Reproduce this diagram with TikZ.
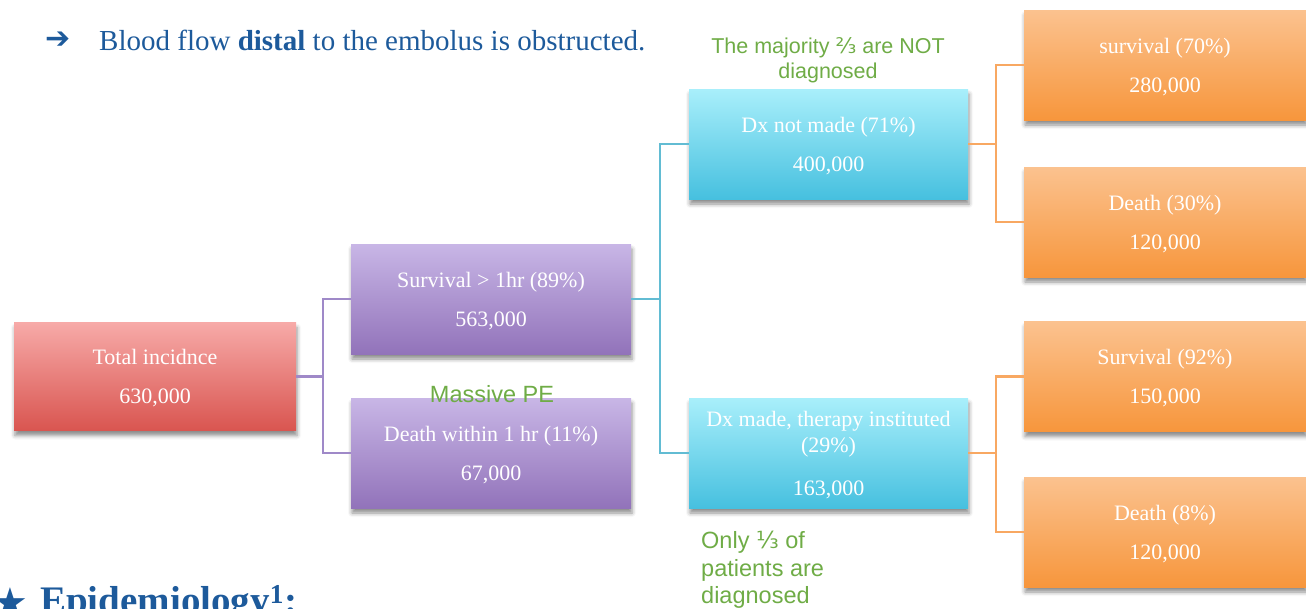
\documentclass[tikz,border=0pt]{standalone}
\usepackage{fontspec}
\setmainfont{Liberation Serif}
\newfontfamily\sanf{Liberation Sans}
\newfontfamily\dvs{DejaVu Sans}
\usetikzlibrary{shadows.blur}

\definecolor{redtop}{HTML}{F7AAA8}
\definecolor{redbot}{HTML}{D95550}
\definecolor{purtop}{HTML}{C8B6E6}
\definecolor{purbot}{HTML}{9273BA}
\definecolor{cyantop}{HTML}{A9EFFB}
\definecolor{cyanbot}{HTML}{46C0DF}
\definecolor{orgtop}{HTML}{FBC28F}
\definecolor{orgbot}{HTML}{F7963C}
\definecolor{purline}{HTML}{9F89C8}
\definecolor{cyanline}{HTML}{62BCD3}
\definecolor{orgline}{HTML}{F8A862}
\definecolor{notegreen}{HTML}{6FAC46}
\definecolor{headblue}{HTML}{1D5A9B}

\tikzset{
  box/.style={minimum width=280pt, minimum height=110pt, inner sep=0pt, align=center,
    text=white, text depth=0pt, font=\fontsize{22}{26}\selectfont,
    blur shadow={shadow xshift=1pt, shadow yshift=-5pt, shadow blur radius=4pt, shadow opacity=45}},
  redbox/.style={box, minimum width=282pt, minimum height=108pt, top color=redtop, bottom color=redbot},
  purbox/.style={box, top color=purtop, bottom color=purbot},
  cyanbox/.style={box, minimum width=279pt, top color=cyantop, bottom color=cyanbot},
  orgbox/.style={box, minimum width=282pt, top color=orgtop, bottom color=orgbot},
  link/.style={line width=2.5pt},
  note/.style={text=notegreen, inner sep=0pt, font=\sanf\fontsize{21.5}{25}\selectfont, align=center},
  blue/.style={text=headblue, inner sep=0pt}
}

\begin{document}
\begin{tikzpicture}[x=1pt, y=-1pt]
  \useasboundingbox (0,0) rectangle (1306,608);
  \clip (0,0) rectangle (1306,608);

  % page text around the chart
  \node[blue, font=\dvs\fontsize{30}{34}\selectfont] (arr) at (58,40) {➔};
  \node[blue, anchor=base west, font=\fontsize{29}{34}\selectfont] (line) at (99,50)
    {Blood flow \textbf{distal} to the embolus is obstructed.};
  \node[blue, anchor=base west, font=\dvs\fontsize{40}{44}\selectfont] (star) at (-8,616) {★};
  \node[blue, anchor=base west, font=\bfseries\fontsize{39}{44}\selectfont] (head) at (40,613)
    {Epidemiology\textsuperscript{1}:};

  % boxes
  \node[redbox] (tot) at (155,376.5) {Total incidnce\\[13pt]630,000};
  \node[purbox] (surv) at (491,299) {Survival > 1hr (89\%)\\[13pt]563,000};
  \node[purbox] (dead) at (491,453) {Death within 1 hr (11\%)\\[13pt]67,000};
  \node[cyanbox] (nodx) at (828.5,144) {Dx not made (71\%)\\[13pt]400,000};
  \node[cyanbox] (dx) at (828.5,453) {Dx made, therapy instituted\\(29\%)\\[17pt]163,000};
  \node[orgbox] (s70) at (1165,65) {survival (70\%)\\[13pt]280,000};
  \node[orgbox] (d30) at (1165,222) {Death (30\%)\\[13pt]120,000};
  \node[orgbox] (s92) at (1165,376.5) {Survival (92\%)\\[13pt]150,000};
  \node[orgbox] (d8) at (1165,532) {Death (8\%)\\[13pt]120,000};

  % connectors
  \coordinate (j1) at (323,376.5);
  \coordinate (j2) at (660,299);
  \coordinate (j3) at (996,144);
  \coordinate (j4) at (996,453);
  \draw[link, purline] (tot.east) -- (j1) |- (surv.west);
  \draw[link, purline] (j1) |- (dead.west);
  \draw[link, cyanline] (surv.east) -- (j2) |- (nodx.west);
  \draw[link, cyanline] (j2) |- (dx.west);
  \draw[link, orgline] (nodx.east) -- (j3) |- (s70.west);
  \draw[link, orgline] (j3) |- (d30.west);
  \draw[link, orgline] (dx.east) -- (j4) |- (s92.west);
  \draw[link, orgline] (j4) |- (d8.west);

  % notes
  \node[note] (maj) at (828,60) {The majority {\dvs ⅔} are NOT\\diagnosed};
  \node[note, font=\sanf\fontsize{23.5}{27.5}\selectfont] (mpe) at (492,394) {Massive PE};
  \node[note, anchor=north west, align=left, font=\sanf\fontsize{23.5}{27.5}\selectfont] (only)
    at (701,531) {Only {\dvs ⅓} of\\patients are\\diagnosed};
\end{tikzpicture}
\end{document}
